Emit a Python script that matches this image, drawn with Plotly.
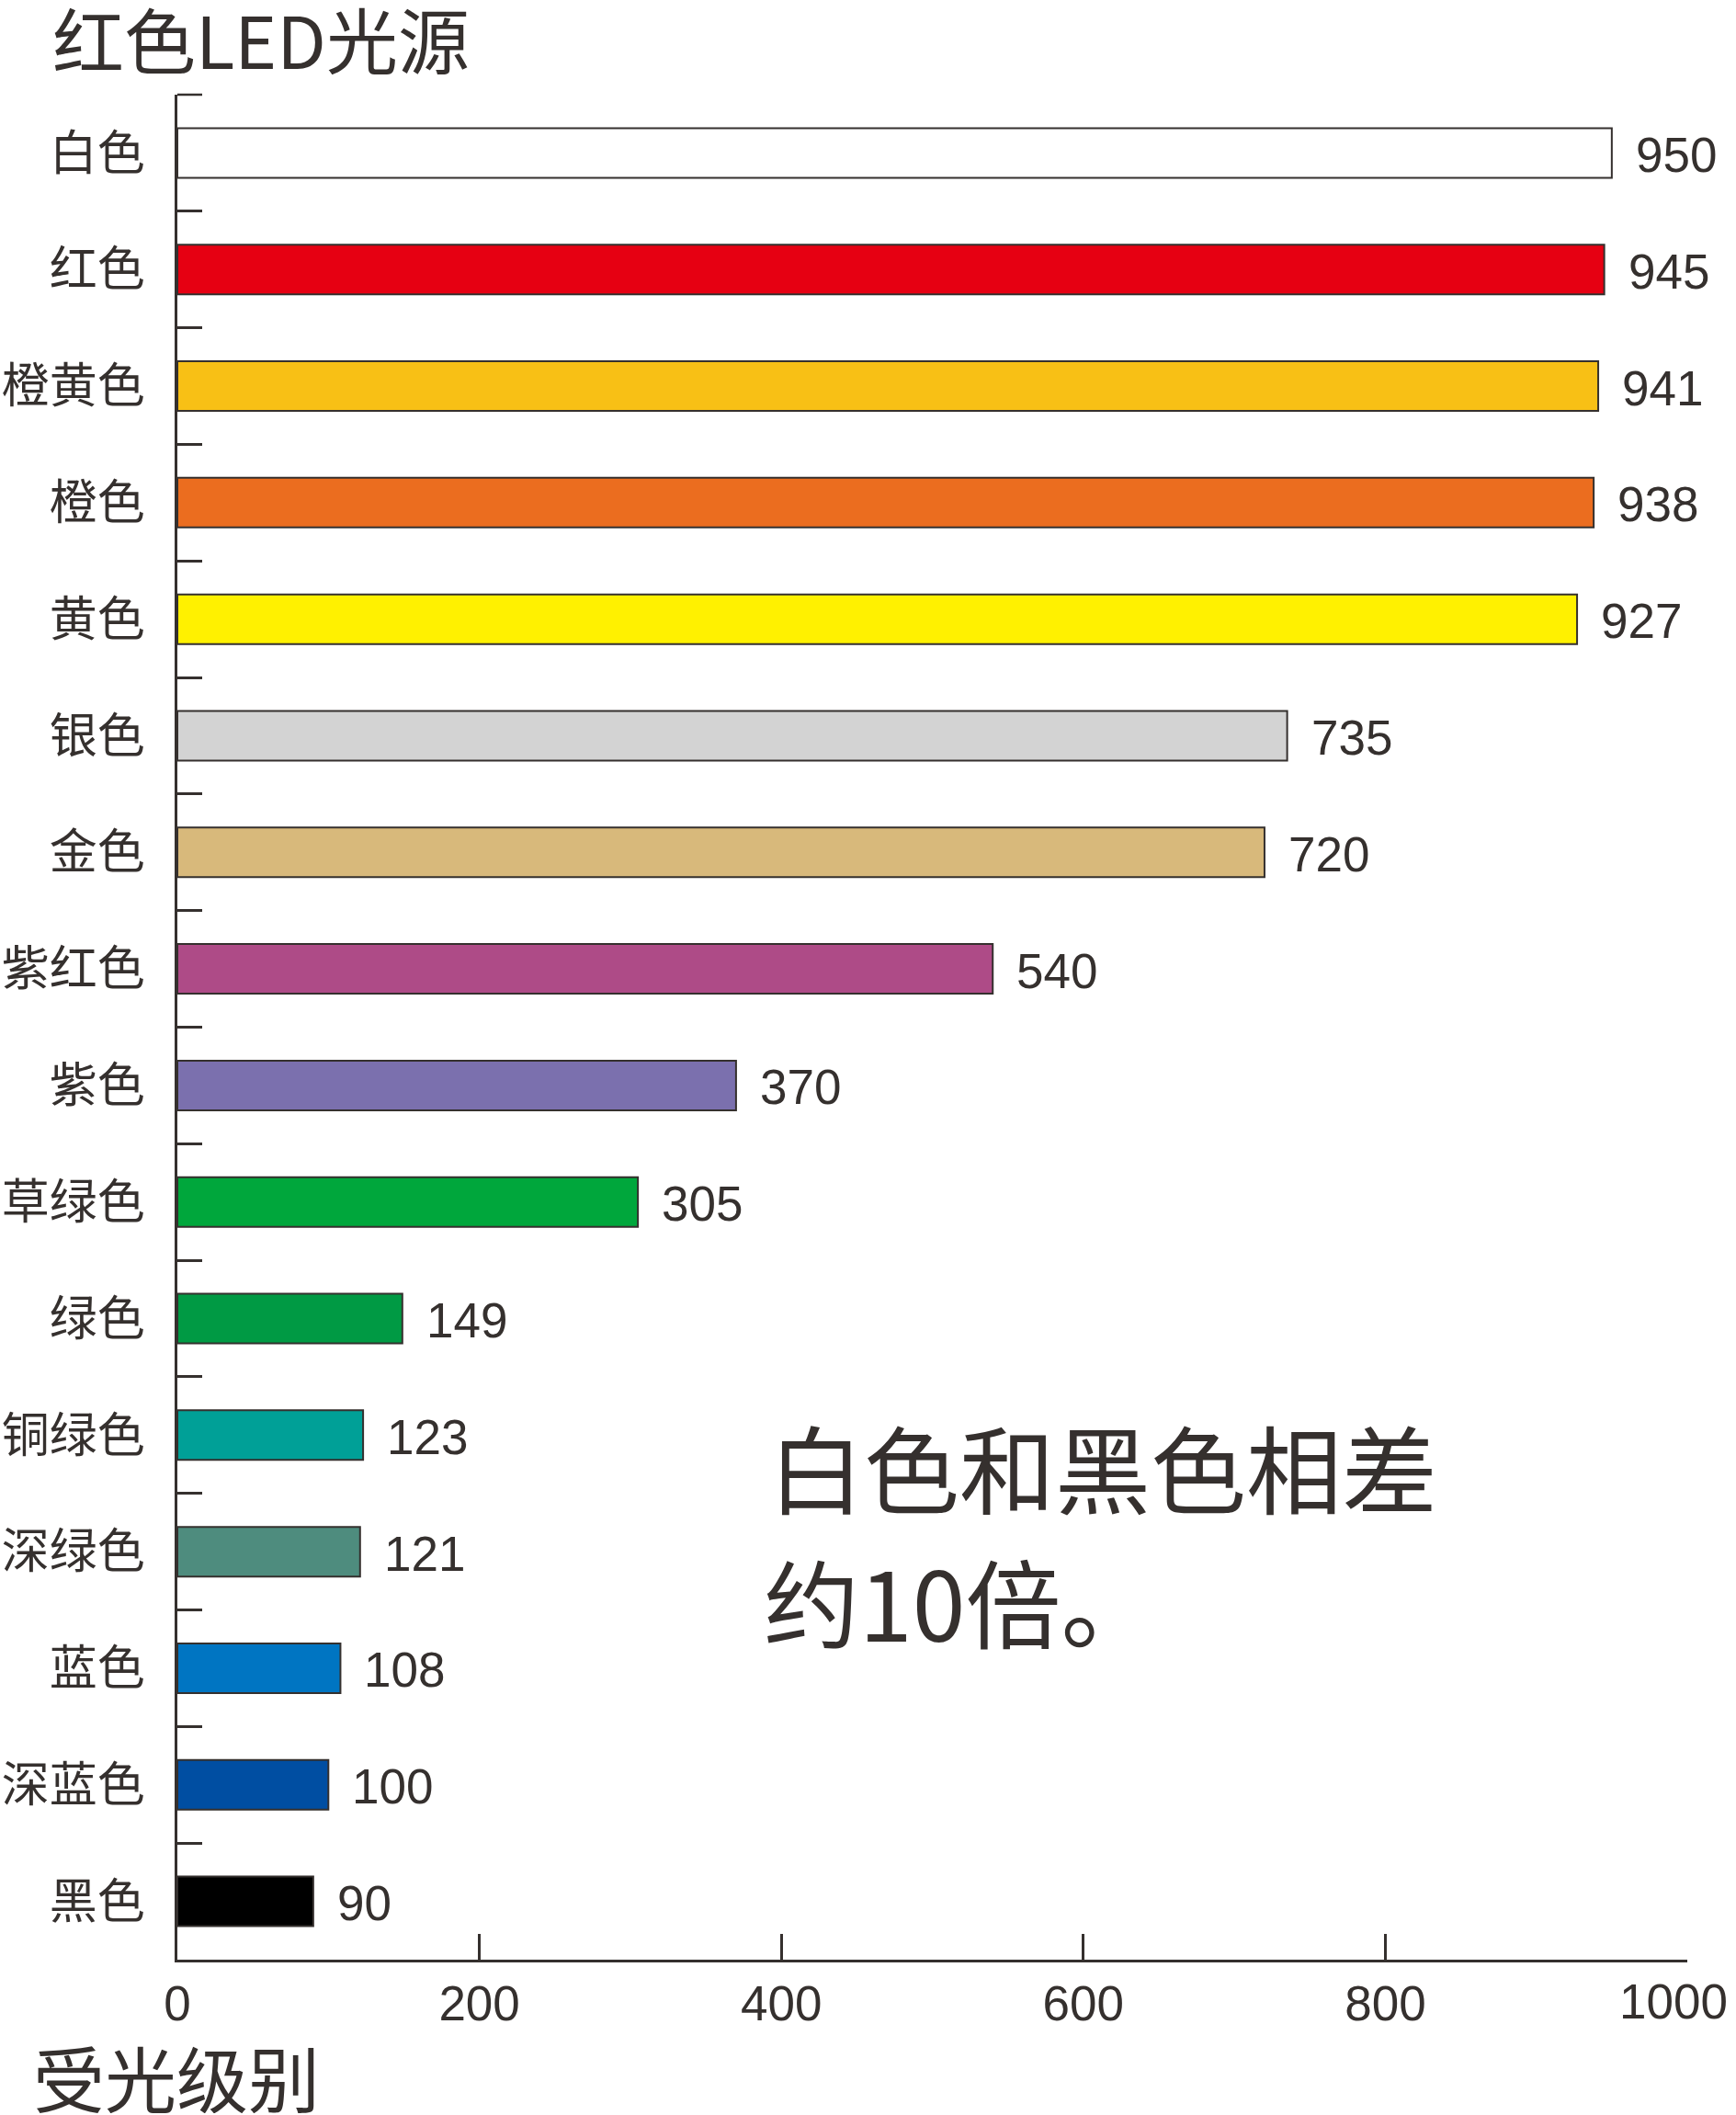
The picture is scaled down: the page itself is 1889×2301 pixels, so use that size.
import plotly.graph_objects as go

categories = ["白色", "红色", "橙黄色", "橙色", "黄色", "银色", "金色", "紫红色",
              "紫色", "草绿色", "绿色", "铜绿色", "深绿色", "蓝色", "深蓝色", "黑色"]
values = [950, 945, 941, 938, 927, 735, 720, 540, 370, 305, 149, 123, 121, 108, 100, 90]
bar_colors = ["#ffffff", "#e60012", "#f8c015", "#eb6d1f", "#fff100", "#d3d3d3", "#d8b97b",
              "#ae4b87", "#7b70ae", "#00a73c", "#009a44", "#00a097", "#4e8c7e", "#0075c2",
              "#004ea2", "#000000"]
x_ticks = [0, 200, 400, 600, 800, 1000]
x_tick_text = ["0", "200", "400", "600", "800", "1000"]

title_text = "红色LED光源"
x_title = "受光级别"
note_lines = ["白色和黑色相差", "约10倍。"]

INK = "#35302e"
CJK = "Noto Sans CJK SC"
NUM = "Liberation Sans, Arial, sans-serif"

W, H = 1889, 2301
L, R, T, B = 193, 53, 103, 169
pw, ph = W - L - R, H - T - B

def px_x(p):
    return (p - L) / pw

def px_y(p):
    return (H - B - p) / ph

fig = go.Figure()
fig.add_trace(go.Bar(
    x=values, y=categories, orientation="h",
    marker=dict(color=bar_colors, line=dict(color=INK, width=2)),
    hoverinfo="skip",
))

annotations = []
for c, v in zip(categories, values):
    annotations.append(dict(
        x=v, y=c, xref="x", yref="y", text=str(v), showarrow=False,
        xanchor="left", yanchor="middle", xshift=24, yshift=-2,
        font=dict(family=NUM, size=53, color=INK),
    ))

# last x tick label, drawn separately so it stays inside the page edge
annotations.append(dict(
    x=x_ticks[-1], y=px_y(2177), xref="x", yref="paper", text=x_tick_text[-1],
    showarrow=False, xanchor="right", yanchor="middle", xshift=45, height=60,
    borderpad=0, font=dict(family=NUM, size=53, color=INK),
))

annotations.append(dict(
    x=px_x(56), y=px_y(41), xref="paper", yref="paper", text=title_text,
    showarrow=False, xanchor="left", yanchor="middle", height=80, borderpad=0,
    font=dict(family=CJK, size=78, color=INK),
))
annotations.append(dict(
    x=px_x(35), y=px_y(2259), xref="paper", yref="paper", text=x_title,
    showarrow=False, xanchor="left", yanchor="middle", height=80, borderpad=0,
    font=dict(family=CJK, size=78, color=INK),
))
annotations.append(dict(
    x=px_x(834), y=px_y(1594), xref="paper", yref="paper", text=note_lines[0],
    showarrow=False, xanchor="left", yanchor="middle",
    font=dict(family=CJK, size=104, color=INK),
))
annotations.append(dict(
    x=px_x(829), y=px_y(1741), xref="paper", yref="paper", text=note_lines[1],
    showarrow=False, xanchor="left", yanchor="middle",
    font=dict(family=CJK, size=104, color=INK),
))

# top boundary tick on the category axis
shapes = [dict(type="line", xref="paper", yref="paper",
               x0=0, x1=27 / pw, y0=1, y1=1,
               line=dict(color=INK, width=2.5))]

fig.update_layout(
    width=W, height=H,
    margin=dict(l=L, r=R, t=T, b=B, pad=0, autoexpand=False),
    paper_bgcolor="white", plot_bgcolor="white",
    bargap=0.574,
    showlegend=False,
    annotations=annotations,
    shapes=shapes,
    xaxis=dict(
        range=[0, 1000], tickvals=x_ticks, ticktext=x_tick_text[:-1] + [""],
        ticks="inside", ticklen=28, tickwidth=2.5, tickcolor=INK,
        showline=True, linecolor=INK, linewidth=2.5,
        showgrid=False, zeroline=False, automargin=False,
        tickfont=dict(family=NUM, size=53, color=INK),
        ticklabelstandoff=0, ticklabeloverflow="allow",
    ),
    yaxis=dict(
        type="category", categoryorder="array", categoryarray=categories,
        autorange="reversed", automargin=False,
        tickson="boundaries", ticks="inside", ticklen=27, tickwidth=2.5, tickcolor=INK,
        showline=True, linecolor=INK, linewidth=2.5,
        showgrid=False, zeroline=False,
        tickfont=dict(family=CJK, size=52, color=INK),
        ticklabelstandoff=22,
    ),
)

fig.write_html("out.html")
